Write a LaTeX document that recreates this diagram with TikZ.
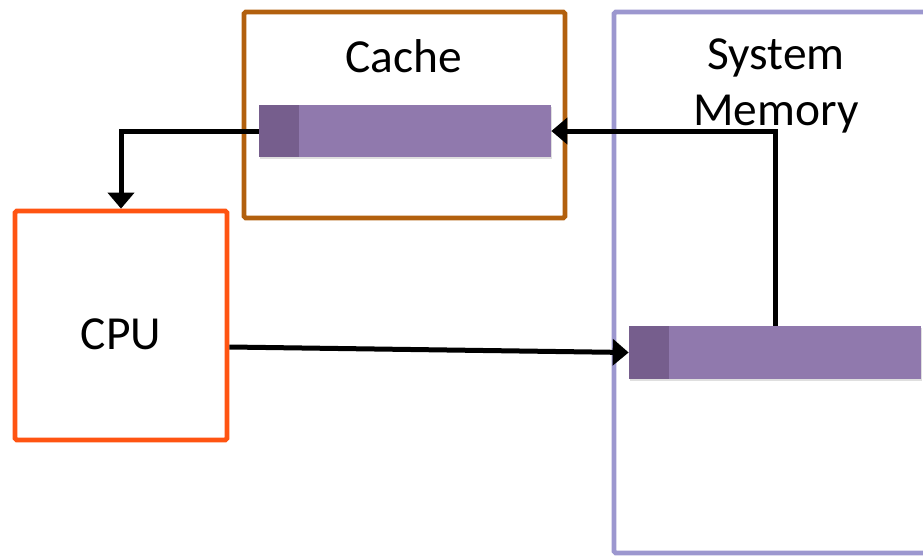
\documentclass[tikz,border=0pt]{standalone}
\usepackage{fontspec}
\setmainfont{Carlito}
\usepackage{xcolor}
\usepackage{tikz}
\usetikzlibrary{arrows.meta, positioning, shadows}
\definecolor{cachebrown}{HTML}{B2600E}
\definecolor{cpuorange}{HTML}{FF5412}
\definecolor{memlav}{HTML}{9C97CF}
\definecolor{linepurple}{HTML}{9079AD}
\definecolor{tagpurple}{HTML}{765E8D}

\begin{document}
\begin{tikzpicture}[
  x=0.02cm, y=-0.02cm,
  every node/.style={font=\fontsize{27}{32}\selectfont},
  box/.style={draw, line width=0.95mm, rounded corners=1pt, fill=white,
              inner sep=0pt},
  cachebox/.style={box, draw=cachebrown, minimum width=6.42cm, minimum height=4.12cm},
  cpubox/.style={box, draw=cpuorange, minimum width=4.24cm, minimum height=4.58cm},
  membox/.style={box, draw=memlav, minimum width=7.72cm, minimum height=10.82cm},
  cline/.style={fill=linepurple, inner sep=0pt, minimum width=5.84cm,
                minimum height=1.05cm,
                drop shadow={opacity=0.25, shadow xshift=0.6pt, shadow yshift=-1pt}},
  ctag/.style={fill=tagpurple, inner sep=0pt, minimum width=0.8cm,
               minimum height=1.05cm, anchor=west},
  arr/.style={-{Triangle[length=3.2mm, width=5.2mm]}, line width=1mm}
]
\useasboundingbox (0,0) rectangle (923,558);

%% boxes
\node[cachebox] (cache) at (404.5,115)   {};
\node[membox]   (mem)   at (807,282.5)   {};
\node[cpubox]   (cpu)   at (121,325.5)   {};

%% labels
\node (cachelbl) at (404,56) {Cache};
\node[align=center] (memlbl) at (776,86) {System\\Memory};
\node (cpulbl) at (121,334) {CPU};

%% cache lines
\node[cline] (cbar) at (405,131)   {};
\node[ctag]  (ctg)  at (cbar.west) {};
\node[cline] (mbar) at (775,352.5) {};
\node[ctag]  (mtg)  at (mbar.west) {};

%% data path
\draw[arr] (mbar.north) |- (cbar.east);
\draw[arr] (cbar.west) -| (cpu.north);
\draw[arr] ([yshift=-0.43cm]cpu.east) -- (mbar.west);

\end{tikzpicture}
\end{document}
